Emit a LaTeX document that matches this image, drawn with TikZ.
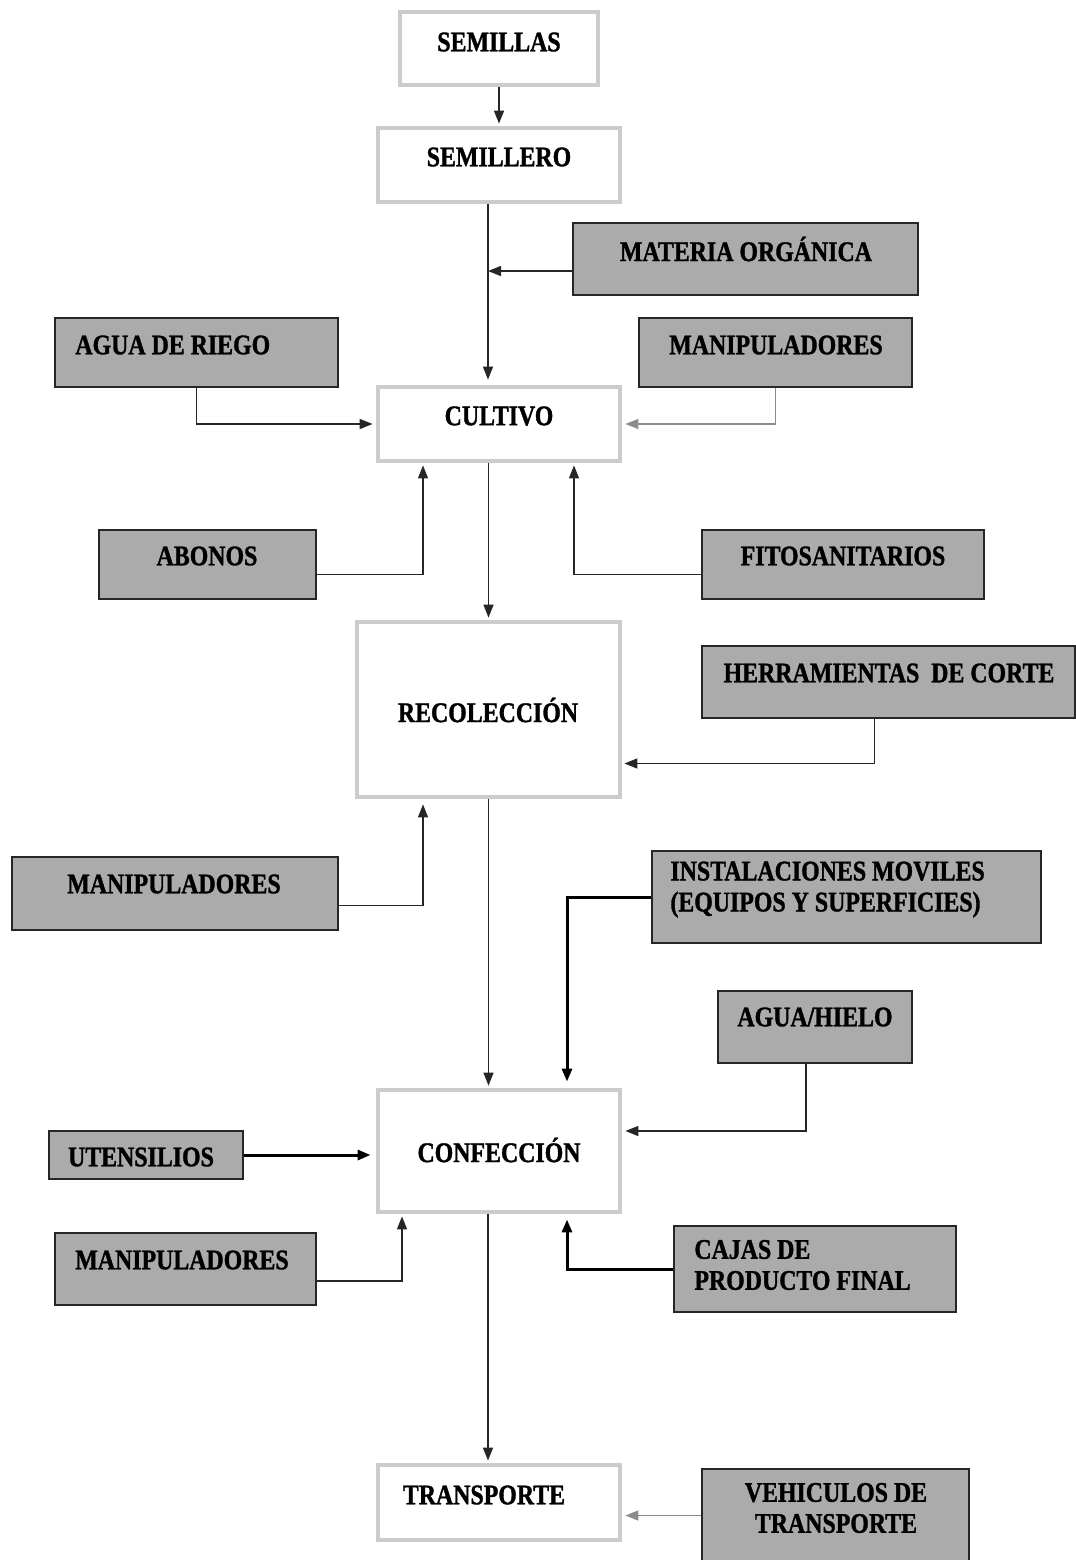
\documentclass[tikz,border=0pt]{standalone}
\usepackage{fontspec}
\setmainfont{Liberation Serif}[FakeStretch=0.84, BoldFeatures={FakeBold=1.2}]
\usetikzlibrary{arrows.meta,fit,calc}
\begin{document}
\begin{tikzpicture}[x=0.5pt,y=-0.5pt,
  wbox/.style={draw=black!20, line width=2.4pt, fill=white, inner sep=0pt},
  gbox/.style={draw=black!85, line width=0.9pt, fill=black!33, inner sep=0pt},
  lbl/.style={font=\bfseries\fontsize{14.2}{15.5}\selectfont, inner sep=0pt, align=left},
  conn/.style={draw=black!85, line width=0.75pt, -{Triangle[length=6.5pt,width=5pt]}},
  connk/.style={conn, line width=1.5pt, draw=black},
  conng/.style={conn, draw=black!45},
]
\useasboundingbox (0,0) rectangle (1076,1560);
% main boxes
\node[wbox, fit={(400,12)(598,85)}] (semillas) {};
\node[lbl] (tsemillas) at (499,42) {SEMILLAS};
\node[wbox, fit={(378,128)(620,202)}] (semillero) {};
\node[lbl] (tsemillero) at (499,157) {SEMILLERO};
\node[wbox, fit={(378,387)(620,461)}] (cultivo) {};
\node[lbl] (tcultivo) at (499,416) {CULTIVO};
\node[wbox, fit={(357,622)(620,797)}] (recol) {};
\node[lbl] (trecol) at (488,710) {RECOLECCIÓN};
\node[wbox, fit={(378,1090)(620,1212)}] (confec) {};
\node[lbl] (tconfec) at (499,1150) {CONFECCIÓN};
\node[wbox, fit={(378,1465)(620,1540)}] (transp) {};
\node[lbl] (ttransp) at (484,1495) {TRANSPORTE};
% inputs
\node[gbox, fit={(573,223)(918,295)}] (materia) {};
\node[lbl] (tmateria) at (746,249) {MATERIA ORGÁNICA};
\node[gbox, fit={(55,318)(338,387)}] (agua) {};
\node[lbl, anchor=west] (tagua) at (75,345) {AGUA DE RIEGO};
\node[gbox, fit={(639,318)(912,387)}] (manipa) {};
\node[lbl] (tmanipa) at (776,345) {MANIPULADORES};
\node[gbox, fit={(99,530)(316,599)}] (abonos) {};
\node[lbl] (tabonos) at (207,556) {ABONOS};
\node[gbox, fit={(702,530)(984,599)}] (fito) {};
\node[lbl] (tfito) at (843,556) {FITOSANITARIOS};
\node[gbox, fit={(702,646)(1075,718)}] (herr) {};
\node[lbl] (therr) at (889,673) {HERRAMIENTAS\ \ DE CORTE};
\node[gbox, fit={(12,857)(338,930)}] (manipb) {};
\node[lbl] (tmanipb) at (174,884) {MANIPULADORES};
\node[gbox, fit={(652,851)(1041,943)}] (instal) {};
\node[lbl, anchor=west] (tinstal) at (670,889.5) {INSTALACIONES MOVILES\\(EQUIPOS Y SUPERFICIES)};
\node[gbox, fit={(718,991)(912,1063)}] (hielo) {};
\node[lbl] (thielo) at (815,1017) {AGUA/HIELO};
\node[gbox, fit={(49,1131)(243,1179)}] (utens) {};
\node[lbl] (tutens) at (141,1157) {UTENSILIOS};
\node[gbox, fit={(55,1233)(316,1305)}] (manipc) {};
\node[lbl] (tmanipc) at (182,1260) {MANIPULADORES};
\node[gbox, fit={(674,1226)(956,1312)}] (cajas) {};
\node[lbl, anchor=west] (tcajas) at (694,1265) {CAJAS DE\\PRODUCTO FINAL};
\node[gbox, fit={(702,1469)(969,1562)}] (vehic) {};
\node[lbl, align=center] (tvehic) at (836,1508) {VEHICULOS DE\\TRANSPORTE};
% connectors
\draw[conn, shorten >=1pt] (semillas.south) -- (semillero.north);
\coordinate (trunk) at ([xshift=-5.5pt]cultivo.north);
\draw[conn, shorten >=2.5pt] ([xshift=-5.5pt]semillero.south) -- (trunk);
\draw[conn] ([yshift=-6pt]materia.west) -- ([yshift=-6pt]materia.west -| trunk);
\draw[conn, shorten >=1.5pt] (agua.south) |- (cultivo.west);
\draw[conng, shorten >=1.5pt] (manipa.south) |- (cultivo.east);
\draw[conn, shorten >=1pt] (recol.north |- cultivo.south) -- (recol.north);
\draw[conn, shorten >=1pt] ([yshift=-5pt]abonos.east) -| ([xshift=-38pt]cultivo.south);
\draw[conn, shorten >=1pt] ([yshift=-5pt]fito.west) -| ([xshift=37.5pt]cultivo.south);
\draw[conn, shorten >=1pt] ([xshift=-7pt]herr.south) |- ([yshift=-27pt]recol.east);
\draw[conn, shorten >=2.5pt] ([yshift=-6pt]manipb.east) -| ([xshift=-32.75pt]recol.south);
\draw[conn, shorten >=1pt] (recol.south) -- (recol.south |- confec.north);
\draw[connk, shorten >=3pt] (instal.west) -| ([xshift=34pt]confec.north);
\draw[conn, shorten >=1.5pt] ([xshift=-4.5pt]hielo.south) |- ([yshift=10pt]confec.east);
\draw[connk, shorten >=2.5pt] (utens.east) -- (utens.east -| confec.west);
\draw[conn, shorten >=1pt] ([yshift=-6pt]manipc.east) -| ([xshift=-48.5pt]confec.south);
\draw[connk, shorten >=2.5pt] (cajas.west) -| ([xshift=34pt]confec.south);
\draw[conn, shorten >=1pt] ([xshift=-5.5pt]confec.south) -- ([xshift=-5.5pt]transp.north);
\draw[conng, shorten >=1.5pt] (vehic.west) -- (vehic.west -| transp.east);
\end{tikzpicture}
\end{document}
